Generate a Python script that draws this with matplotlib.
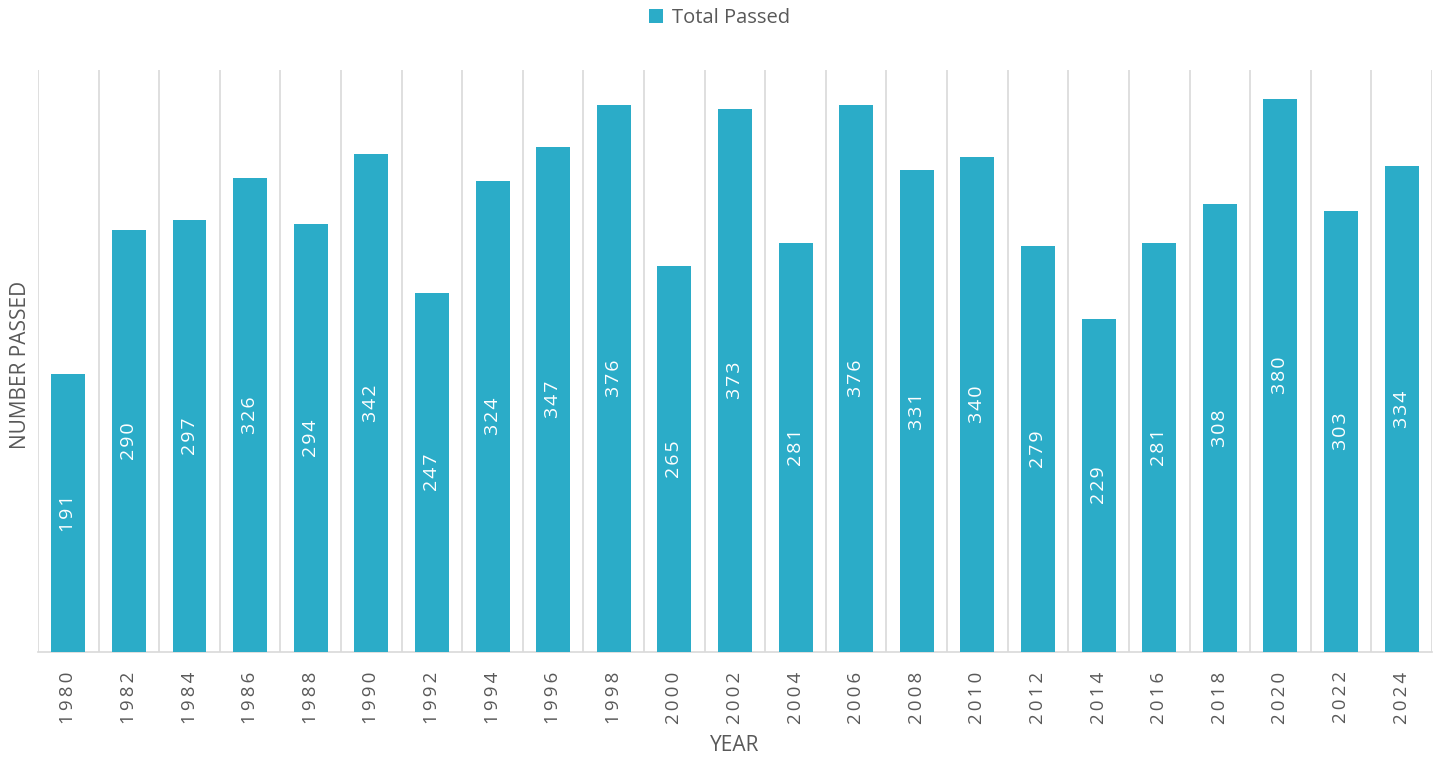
import matplotlib
matplotlib.use("Agg")
import matplotlib.pyplot as plt
from matplotlib.patches import Patch

years = ["1980", "1982", "1984", "1986", "1988", "1990", "1992", "1994", "1996", "1998",
         "2000", "2002", "2004", "2006", "2008", "2010", "2012", "2014", "2016", "2018",
         "2020", "2022", "2024"]
total_passed = [191, 290, 297, 326, 294, 342, 247, 324, 347, 376,
                265, 373, 281, 376, 331, 340, 279, 229, 281, 308,
                380, 303, 334]

plt.rcParams['font.family'] = ['Open Sans', 'DejaVu Sans']
bar_color = "#2BACC8"
text_color = "#595959"
grid_color = "#D9D9D9"


def spaced(s, sp="\u2009"):
    return sp.join(list(s))


fig = plt.figure(figsize=(14.39, 7.58), dpi=100)
ax = fig.add_axes([0.0264, 0.1398, 0.9687, 0.7679])

x = list(range(len(years)))
ax.bar(x, total_passed, width=0.56, color=bar_color, zorder=3)

for xi, v in zip(x, total_passed):
    ax.text(xi, v / 2, spaced(str(v), "\u200a"), rotation=90, ha='center', va='center',
            color='white', fontsize=14, zorder=4)

ax.set_xlim(-0.5, len(years) - 0.5)
ax.set_ylim(0, 400)

for b in range(len(years) + 1):
    ax.axvline(b - 0.5, color=grid_color, lw=1.2, zorder=1)

for s in ['top', 'right', 'left']:
    ax.spines[s].set_visible(False)
ax.spines['bottom'].set_color(grid_color)
ax.spines['bottom'].set_linewidth(1.2)

ax.set_xticks(x)
ax.set_xticklabels([spaced(y) for y in years], rotation=90, fontsize=13.5, color=text_color)
ax.tick_params(axis='x', length=0, pad=14)
ax.set_yticks([])

ax.set_xlabel("YEAR", fontsize=15, color=text_color, labelpad=8)
fig.text(0.0139, 0.518, "NUMBER PASSED", rotation=90, ha='center', va='center',
         fontsize=15, color=text_color)

handle = Patch(facecolor=bar_color, edgecolor='none')
fig.legend([handle], ["Total Passed"], loc='center', bbox_to_anchor=(0.5, 0.976),
           frameon=False, fontsize=14.5, labelcolor=text_color,
           handlelength=0.7, handleheight=0.7, handletextpad=0.4)

fig.savefig("out.png", dpi=100)
